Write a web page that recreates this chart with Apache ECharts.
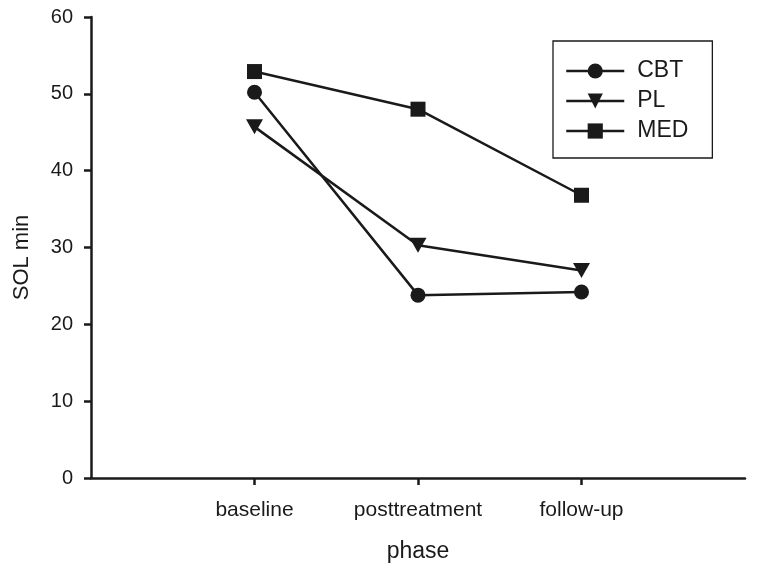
<!DOCTYPE html>
<html>
<head>
<meta charset="utf-8">
<script src="https://cdn.jsdelivr.net/npm/echarts@6/dist/echarts.min.js"></script>
<style>html,body{margin:0;padding:0;background:#fff}#c{width:762px;height:576px}</style>
</head>
<body>
<div id="c"></div>
<script>
const phases = ['baseline', 'posttreatment', 'follow-up'];
const cbt = [50.2, 23.8, 24.2];
const pl = [45.7, 30.3, 27.0];
const med = [52.9, 48.0, 36.8];
const yTicks = [0, 10, 20, 30, 40, 50, 60];

const ink = '#1a1a1a';
const font = 'Liberation Sans, Arial, sans-serif';
function pts(vals) { return vals.map((v, i) => [i + 1, v]); }
function series(name, vals, symbol, size, rot) {
  return {
    name: name, type: 'line', data: pts(vals),
    symbol: symbol, symbolSize: size, symbolRotate: rot || 0,
    lineStyle: { color: ink, width: 2.5 },
    itemStyle: { color: ink, borderWidth: 0 },
    emphasis: { disabled: true }, animation: false
  };
}
const chart = echarts.init(document.getElementById('c'), null, { renderer: 'canvas' });
chart.setOption({
  animation: false,
  backgroundColor: '#fff',
  grid: { left: 91, right: 17, top: 17, bottom: 98 },
  legend: {
    orient: 'vertical', left: 553, top: 41,
    padding: [18, 24, 15, 12],
    borderColor: ink, borderWidth: 1.3,
    itemWidth: 58, itemHeight: 19, itemGap: 6,
    lineStyle: { width: 2.5 },
    textStyle: { fontFamily: font, fontSize: 23, color: ink, lineHeight: 24, padding: [0, 0, 0, 8] },
    data: ['CBT', 'PL', 'MED']
  },
  xAxis: {
    type: 'value', min: 0, max: 4, interval: 1,
    name: 'phase', nameLocation: 'middle', nameGap: 62,
    nameTextStyle: { fontFamily: font, fontSize: 23, color: ink },
    axisLine: { lineStyle: { color: ink, width: 2.5 } },
    axisTick: { show: true, length: 7, lineStyle: { color: ink, width: 2.5 }, customValues: [1, 2, 3] },
    axisLabel: { fontFamily: font, fontSize: 21, color: ink, margin: 22, customValues: [1, 2, 3],
      formatter: v => phases[v - 1] || '' },
    splitLine: { show: false }
  },
  yAxis: {
    type: 'value', min: 0, max: 60, interval: 10,
    name: 'SOL min', nameLocation: 'middle', nameGap: 58,
    nameTextStyle: { fontFamily: font, fontSize: 22, color: ink, padding: [0, 20, 0, 0] },
    axisLine: { show: true, lineStyle: { color: ink, width: 2.5 } },
    axisTick: { show: true, length: 7, lineStyle: { color: ink, width: 2.5 } },
    axisLabel: { fontFamily: font, fontSize: 20, color: ink, margin: 18,
      formatter: v => yTicks.includes(v) ? String(v) : '' },
    splitLine: { show: false }
  },
  series: [
    series('CBT', cbt, 'circle', 15),
    series('PL', pl, 'triangle', [17, 15], 180),
    series('MED', med, 'rect', 15)
  ]
});
</script>
</body>
</html>
